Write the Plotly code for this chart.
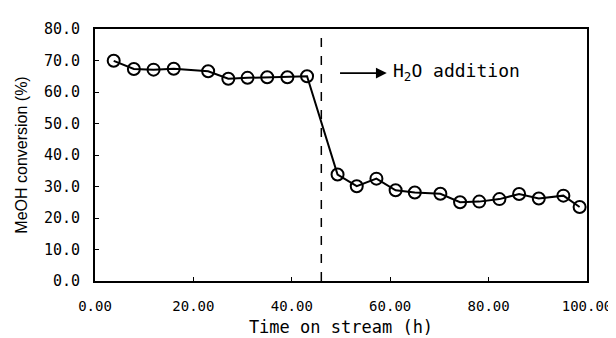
import plotly.graph_objects as go

time_h = [3.8, 7.9, 11.9, 16.0, 23.0, 27.1, 31.0, 35.0, 39.1, 43.1,
          49.3, 53.2, 57.2, 61.1, 65.0, 70.2, 74.2, 78.1, 82.2, 86.2, 90.2, 95.2, 98.5]
conversion = [69.9, 67.3, 67.1, 67.4, 66.6, 64.2, 64.5, 64.7, 64.7, 65.0,
              33.8, 30.1, 32.5, 28.8, 28.1, 27.7, 25.0, 25.2, 26.0, 27.6, 26.2, 27.1, 23.5]
h2o_time = 46.0
x_ticks = [0, 20, 40, 60, 80, 100]
y_ticks = [0, 10, 20, 30, 40, 50, 60, 70, 80]

sans = "Liberation Sans, Arial, sans-serif"
mono = "DejaVu Sans Mono, Liberation Mono, monospace"

fig = go.Figure()
fig.add_trace(go.Scatter(
    x=time_h, y=conversion, mode="lines+markers",
    line=dict(color="black", width=2),
    marker=dict(symbol="circle-open", size=12, color="black", line=dict(width=2)),
    showlegend=False,
))
fig.add_shape(type="line", x0=h2o_time, x1=h2o_time, y0=0, y1=80,
              xref="x", yref="y", line=dict(color="black", width=1.5, dash="dash"))
fig.add_annotation(x=59.3, y=66.0, ax=49.5, ay=66.0, xref="x", yref="y", axref="x", ayref="y",
                   showarrow=True, arrowhead=2, arrowsize=1.2, arrowwidth=1.8,
                   arrowcolor="black", text="")
fig.add_annotation(x=60.2, y=66.2, xref="x", yref="y", xanchor="left", showarrow=False,
                   text="H<sub>2</sub>O addition", font=dict(family=mono, size=18, color="black"))

fig.update_layout(
    width=616, height=338,
    margin=dict(l=87, r=33, t=13, b=63),
    paper_bgcolor="white", plot_bgcolor="white",
    font=dict(family=sans, color="black"),
)
fig.update_xaxes(range=[0, 100], tickvals=x_ticks, tickformat=".2f",
                 ticks="inside", ticklen=4, tickcolor="black",
                 showline=True, linecolor="black", linewidth=2, mirror=True,
                 showgrid=False, zeroline=False, ticklabelstandoff=11,
                 ticklabeloverflow="allow",
                 tickfont=dict(size=14, family=mono),
                 title=dict(text="Time on stream (h)", font=dict(size=17, family=mono), standoff=8))
fig.update_yaxes(range=[0, 80], tickvals=y_ticks, tickformat=".1f",
                 ticks="inside", ticklen=4, tickcolor="black",
                 showline=True, linecolor="black", linewidth=2, mirror=True,
                 showgrid=False, zeroline=False, ticklabelstandoff=10,
                 tickfont=dict(size=15, family=mono),
                 title=dict(text="MeOH conversion (%)", font=dict(size=16, family=sans), standoff=12))

fig.write_html("out.html")
